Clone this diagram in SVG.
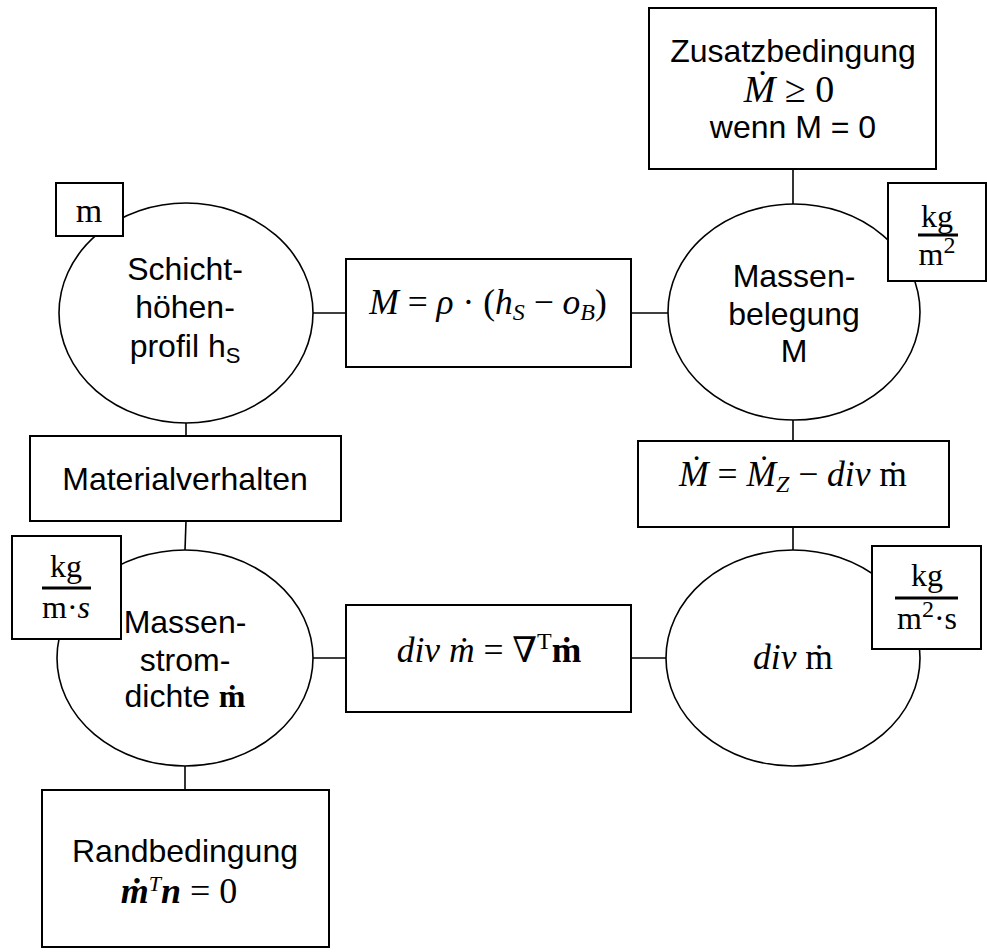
<svg xmlns="http://www.w3.org/2000/svg" width="987" height="952" viewBox="0 0 987 952">
<style>
.box{fill:#fff;stroke:#000;stroke-width:2}
.ell{fill:#fff;stroke:#000;stroke-width:1.6}
.ln{stroke:#000;stroke-width:1.6;fill:none}
.t{font-family:"Liberation Sans",Arial,sans-serif;font-size:32px;fill:#000;text-anchor:middle}
.m{font-family:"Liberation Serif","DejaVu Serif",serif;font-size:32px;fill:#000;text-anchor:middle}
.eq{font-size:35.5px}
.i{font-style:italic}
.b{font-weight:bold}
.bar{stroke:#000;stroke-width:3}
</style>
<rect width="987" height="952" fill="#fff"/>
<g id="connectors">
<line class="ln" x1="793" y1="169" x2="793" y2="205"/>
<line class="ln" x1="313" y1="313" x2="346" y2="313"/>
<line class="ln" x1="631" y1="313" x2="668" y2="313"/>
<line class="ln" x1="186" y1="422" x2="186" y2="436"/>
<line class="ln" x1="186" y1="521" x2="185" y2="550"/>
<line class="ln" x1="793" y1="420" x2="793" y2="441"/>
<line class="ln" x1="793" y1="527" x2="793" y2="550"/>
<line class="ln" x1="312" y1="658" x2="346" y2="658"/>
<line class="ln" x1="631" y1="658" x2="666" y2="658"/>
<line class="ln" x1="185" y1="766" x2="185" y2="790"/>
</g>
<g id="zusatz">
<rect class="box" x="649" y="8" width="287" height="161"/>
<text class="t" x="793" y="62">Zusatzbedingung</text>
<text class="m eq" x="789" y="102" style="font-size:38px"><tspan class="i">Ṁ</tspan> ≥ 0</text>
<text class="t" x="793" y="138">wenn M = 0</text>
</g>
<g id="schicht">
<ellipse class="ell" cx="186" cy="313" rx="127" ry="110"/>
<text class="t" x="185" y="280">Schicht-</text>
<text class="t" x="185" y="318">höhen-</text>
<text class="t" x="185" y="357">profil h<tspan font-size="22" dy="6">S</tspan></text>
</g>
<g id="unit-m">
<rect class="box" x="56" y="183" width="67" height="53"/>
<text class="m" x="89" y="222" style="font-size:34px">m</text>
</g>
<g id="eq-M">
<rect class="box" x="346" y="259" width="285" height="108"/>
<text class="m eq" x="488" y="314"><tspan class="i">M</tspan> = <tspan class="i">ρ</tspan> · (<tspan class="i">h</tspan><tspan class="i" font-size="24" dy="6">S</tspan><tspan dy="-6"> − </tspan><tspan class="i">o</tspan><tspan class="i" font-size="24" dy="6">B</tspan><tspan dy="-6">)</tspan></text>
</g>
<g id="massenbelegung">
<ellipse class="ell" cx="794" cy="312" rx="126" ry="108"/>
<text class="t" x="794" y="287">Massen-</text>
<text class="t" x="794" y="325">belegung</text>
<text class="t" x="794" y="362">M</text>
</g>
<g id="unit-kgm2">
<rect class="box" x="888" y="183" width="98" height="98"/>
<text class="m" x="937" y="227">kg</text>
<line class="bar" x1="918" y1="235" x2="958" y2="235"/>
<text class="m" x="937" y="265">m<tspan font-size="24" dy="-12">2</tspan></text>
</g>
<g id="materialverhalten">
<rect class="box" x="30" y="436" width="311" height="85"/>
<text class="t" x="185" y="490">Materialverhalten</text>
</g>
<g id="eq-Mdot">
<rect class="box" x="638" y="441" width="311" height="86"/>
<text class="m eq" x="793" y="486"><tspan class="i">Ṁ</tspan> = <tspan class="i">Ṁ</tspan><tspan class="i" font-size="24" dy="6">Z</tspan><tspan dy="-6"> − </tspan><tspan class="i">div</tspan> ṁ</text>
</g>
<g id="massenstrom">
<ellipse class="ell" cx="185" cy="658" rx="128" ry="108"/>
<text class="t" x="185" y="633">Massen-</text>
<text class="t" x="185" y="671">strom-</text>
<text class="t" x="185" y="707">dichte <tspan class="m b" style="text-anchor:start">ṁ</tspan></text>
</g>
<g id="unit-kgms">
<rect class="box" x="12" y="536" width="109" height="103"/>
<text class="m" x="66" y="577">kg</text>
<line class="bar" x1="42" y1="588" x2="91" y2="588"/>
<text class="m" x="66" y="618">m·<tspan class="i">s</tspan></text>
</g>
<g id="eq-div">
<rect class="box" x="346" y="605" width="285" height="107"/>
<text class="m eq" x="489" y="662"><tspan class="i">div ṁ</tspan> = ∇<tspan font-size="24" dy="-13">T</tspan><tspan class="b" dy="13">ṁ</tspan></text>
</g>
<g id="divm">
<ellipse class="ell" cx="793" cy="658" rx="127" ry="108"/>
<text class="m eq" x="793" y="669"><tspan class="i">div</tspan> ṁ</text>
</g>
<g id="unit-kgm2s">
<rect class="box" x="872" y="546" width="109" height="103"/>
<text class="m" x="927" y="586">kg</text>
<line class="bar" x1="895" y1="598" x2="958" y2="598"/>
<text class="m" x="927" y="629">m<tspan font-size="24" dy="-12">2</tspan><tspan dy="12">·s</tspan></text>
</g>
<g id="randbedingung">
<rect class="box" x="42" y="790" width="287" height="157"/>
<text class="t" x="185" y="862">Randbedingung</text>
<text class="m eq" x="179" y="903" style="font-size:36px"><tspan class="i b">ṁ</tspan><tspan class="i" font-size="22" dy="-12">T</tspan><tspan class="i b" dy="12">n</tspan> = 0</text>
</g>
</svg>
